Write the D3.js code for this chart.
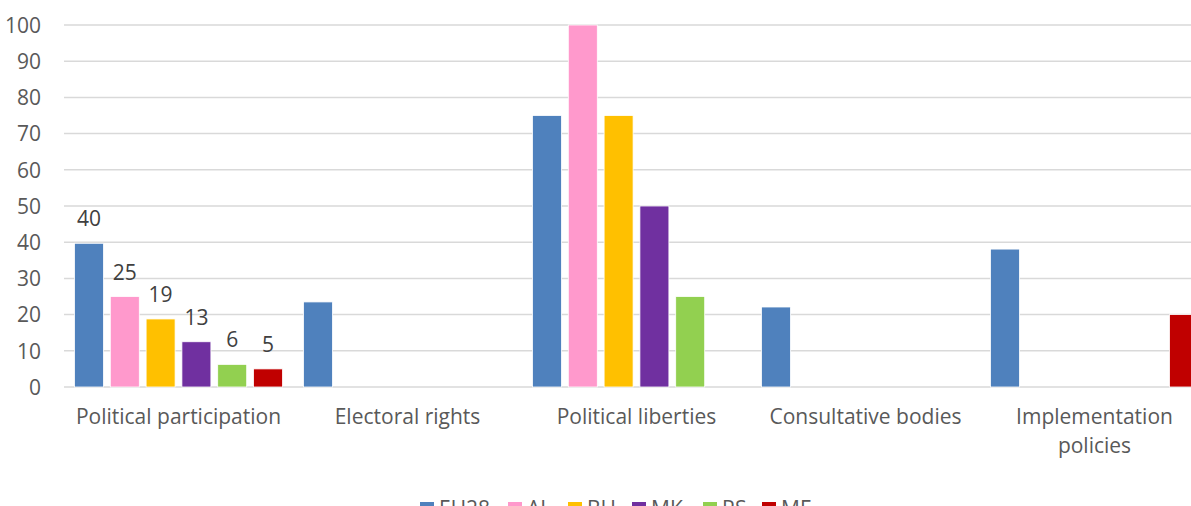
<!DOCTYPE html>
<html>
<head>
<meta charset="utf-8">
<script src="https://cdn.jsdelivr.net/npm/d3@7"></script>
<style>
  body { margin: 0; background: #fff; }
  svg text { font-family: "Open Sans", Lato, sans-serif; fill: #595959; }
</style>
</head>
<body>
<script>
// categories and series
var categories = ["Political participation", "Electoral rights", "Political liberties", "Consultative bodies", "Implementation policies"];
var seriesNames = ["EU28", "AL", "BH", "MK", "RS", "ME"];
var colors = ["#4F81BD", "#FF99CC", "#FFC000", "#7030A0", "#92D050", "#C00000"];

// values per series, in category order (null = no bar)
var EU28 = [39.7, 23.5, 75, 22.1, 38.1];
var AL   = [25, null, 100, null, null];
var BH   = [18.8, null, 75, null, null];
var MK   = [12.5, null, 50, null, null];
var RS   = [6.25, null, 25, null, null];
var ME   = [5, null, null, null, 20];

// data labels shown only on first group
var labels = ["40", "25", "19", "13", "6", "5"];
var yTicks = [0, 10, 20, 30, 40, 50, 60, 70, 80, 90, 100];

var allValues = [EU28, AL, BH, MK, RS, ME];

var width = 1191, height = 506;
var margin = { top: 25, left: 64, bottom: 119 };
var plotRight = 1209; // chart continues past the right edge
var fs = "21px";

var svg = d3.select("body").append("svg")
    .attr("width", width)
    .attr("height", height);

var x0 = d3.scaleBand()
    .domain(categories)
    .range([margin.left, plotRight])
    .padding(0);

var x1 = d3.scaleBand()
    .domain(seriesNames)
    .range([0, x0.bandwidth()])
    .paddingInner(0.19)
    .paddingOuter(0.293);

var y = d3.scaleLinear()
    .domain([0, 100])
    .range([height - margin.bottom, margin.top]);

// gridlines
svg.append("g")
  .selectAll("line")
  .data(yTicks)
  .enter().append("line")
    .attr("x1", margin.left)
    .attr("x2", plotRight)
    .attr("y1", function(d) { return y(d); })
    .attr("y2", function(d) { return y(d); })
    .style("stroke", "#D9D9D9")
    .style("stroke-width", 1.5);

// y axis
var yAxis = d3.axisLeft(y)
    .tickValues(yTicks)
    .tickSize(0)
    .tickPadding(0);

var gy = svg.append("g")
    .attr("transform", "translate(41,0)")
    .call(yAxis);
gy.select(".domain").remove();
gy.selectAll("text")
    .style("font-size", fs)
    .attr("dy", "0.35em");

// bars
var groups = svg.append("g")
  .selectAll("g")
  .data(seriesNames)
  .enter().append("g")
    .style("fill", function(d, i) { return colors[i]; });

groups.selectAll("rect")
  .data(function(s, i) {
    return allValues[i].map(function(v, j) { return { series: s, cat: categories[j], value: v }; })
      .filter(function(d) { return d.value != null; });
  })
  .enter().append("rect")
    .attr("x", function(d) { return x0(d.cat) + x1(d.series); })
    .attr("width", x1.bandwidth())
    .attr("y", function(d) { return y(d.value); })
    .attr("height", function(d) { return y(0) - y(d.value); })
    .style("stroke", "#fff")
    .style("stroke-width", 0.8);

// data labels on first category
svg.append("g")
  .selectAll("text")
  .data(seriesNames)
  .enter().append("text")
    .attr("x", function(d) { return x0(categories[0]) + x1(d) + x1.bandwidth() / 2; })
    .attr("y", function(d, i) { return y(allValues[i][0]) - 17; })
    .attr("text-anchor", "middle")
    .style("font-size", fs)
    .style("fill", "#404040")
    .text(function(d, i) { return labels[i]; });

// category labels
var catLabels = svg.append("g")
  .selectAll("text")
  .data(categories)
  .enter().append("text")
    .attr("x", function(d) { return x0(d) + x0.bandwidth() / 2; })
    .attr("y", 424)
    .attr("text-anchor", "middle")
    .style("font-size", fs);

catLabels.each(function(d) {
  var t = d3.select(this);
  var lines = d === "Implementation policies" ? ["Implementation", "policies"] : [d];
  lines.forEach(function(l, k) {
    t.append("tspan")
      .attr("x", t.attr("x"))
      .attr("dy", k === 0 ? 0 : 29)
      .text(l);
  });
});

// legend (cut by the bottom edge, as in the original)
var legendX = [420, 508, 568, 632, 703, 762];
var legend = svg.append("g")
  .selectAll("g")
  .data(seriesNames)
  .enter().append("g")
    .attr("transform", function(d, i) { return "translate(" + legendX[i] + ",502)"; });

legend.append("rect")
    .attr("width", 14)
    .attr("height", 14)
    .style("fill", function(d, i) { return colors[i]; });

legend.append("text")
    .attr("x", 19)
    .attr("y", 14)
    .style("font-size", fs)
    .text(function(d) { return d; });
</script>
</body>
</html>
